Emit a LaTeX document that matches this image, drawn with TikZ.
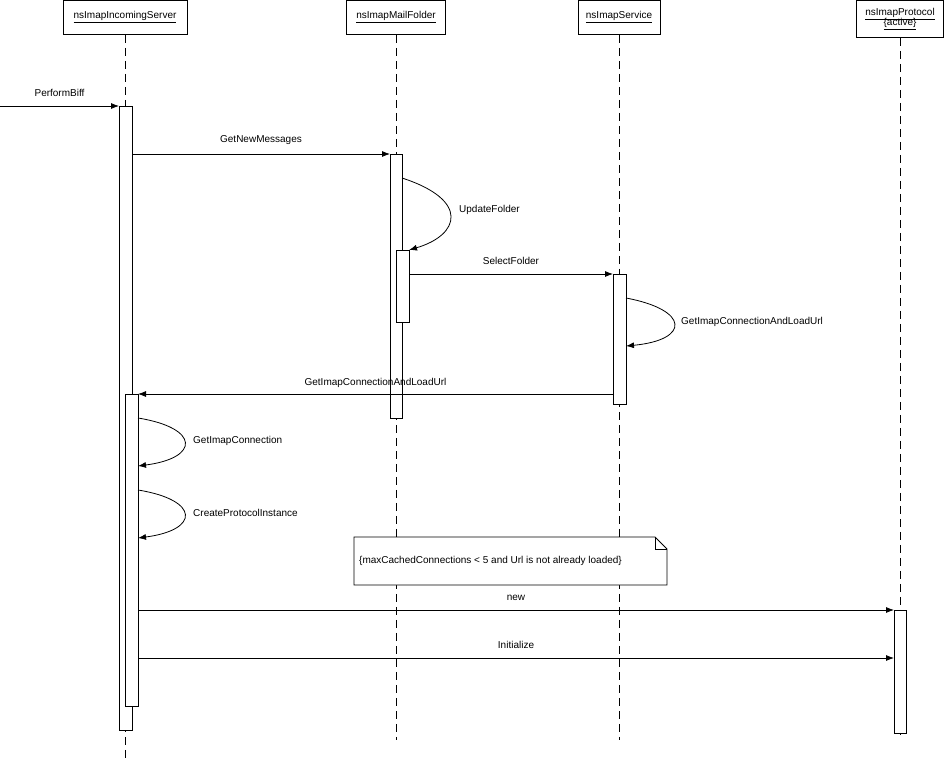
\documentclass[tikz,border=0pt]{standalone}
\usepackage{fontspec}
\setmainfont{Liberation Sans}
\usetikzlibrary{arrows.meta, positioning, calc}
\tikzstyle{object} = [rectangle, draw=black, line width=0.8pt, minimum height=34pt, inner sep=2pt, align=center, font=\fontsize{10}{12}\selectfont]
\tikzstyle{life} = [dash pattern=on 8pt off 5pt, line width=0.8pt]
\tikzstyle{activation} = [draw=black, fill=white, line width=0.8pt]
\tikzstyle{arrow} = [line width=0.8pt,-{Latex[length=8pt,width=6pt]}]
\tikzstyle{msg} = [font=\fontsize{10}{12}\selectfont, inner sep=1pt]

\begin{document}
\begin{tikzpicture}[x=1pt, y=-1pt]
    \useasboundingbox (0,0) rectangle (945,760);
    % Objects
    \node[object, minimum width=124pt, anchor=north] (server) at (125,0) {\underline{nsImapIncomingServer}};
    \node[object, minimum width=99pt, anchor=north] (folder) at (396,0) {\underline{nsImapMailFolder}};
    \node[object, minimum width=82pt, anchor=north] (service) at (619,0) {\underline{nsImapService}};
    \node[object, minimum width=87pt, minimum height=37pt, anchor=north] (protocol) at (900,0) {\underline{nsImapProtocol}\\[-2pt]\underline{\{active\}}};

    % Lifelines
    \draw[life] (server.south) -- (125,760);
    \draw[life] (folder.south) -- (396,740);
    \draw[life] (service.south) -- (619,740);
    \draw[life] (protocol.south) -- (900,735);

    % Activations
    \draw[activation] (119,106) rectangle (132,730);
    \draw[activation] (125,394) rectangle (138,706);
    \draw[activation] (390,154) rectangle (402,418);
    \draw[activation] (396,250) rectangle (409,322);
    \draw[activation] (613,274) rectangle (626,404);
    \draw[activation] (894,610) rectangle (906,733);

    % Message end points
    \coordinate (biff) at (0,106);
    \coordinate (srvA) at (119,106);
    \coordinate (srvB) at (132,154);
    \coordinate (fldA) at (390,154);
    \coordinate (fldB) at (402,178);
    \coordinate (fldC) at (409,250);
    \coordinate (fldD) at (409,274);
    \coordinate (svcA) at (613,274);
    \coordinate (svcB) at (626,298);
    \coordinate (svcC) at (626,346);
    \coordinate (svcD) at (613,394);
    \coordinate (srvC) at (138,394);
    \coordinate (srvD) at (138,418);
    \coordinate (srvE) at (138,466);
    \coordinate (srvF) at (138,490);
    \coordinate (srvG) at (138,538);
    \coordinate (srvH) at (138,610);
    \coordinate (srvI) at (138,658);
    \coordinate (prtA) at (894,610);
    \coordinate (prtB) at (894,658);

    % Messages
    \draw[arrow] (biff) -- node[msg, above=8pt] {PerformBiff} (srvA);
    \draw[arrow] (srvB) -- node[msg, above=8pt] {GetNewMessages} (fldA);
    \draw[arrow] (fldB) .. controls (470,200) and (460,235) .. (fldC);
    \node[msg, anchor=west] (upd) at (458,210) {UpdateFolder};
    \draw[arrow] (fldD) -- node[msg, above=8pt] {SelectFolder} (svcA);
    \draw[arrow] (svcB) .. controls (690,310) and (690,340) .. (svcC);
    \node[msg, anchor=west] (load) at (680,322) {GetImapConnectionAndLoadUrl};
    \draw[arrow] (svcD) -- node[msg, above=5pt] {GetImapConnectionAndLoadUrl} (srvC);
    \draw[arrow] (srvD) .. controls (200,428) and (200,458) .. (srvE);
    \node[msg, anchor=west] (conn) at (192,441) {GetImapConnection};
    \draw[arrow] (srvF) .. controls (200,500) and (200,530) .. (srvG);
    \node[msg, anchor=west] (inst) at (192,513) {CreateProtocolInstance};
    \draw[arrow] (srvH) -- node[msg, above=8pt] {new} (prtA);
    \draw[arrow] (srvI) -- node[msg, above=8pt] {Initialize} (prtB);

    % Note
    \draw[line width=0.8pt, fill=white] (354,537) -- (655,537) -- (667,549) -- (667,585) -- (354,585) -- cycle;
    \draw[line width=0.8pt] (655,537) -- (655,549) -- (667,549);
    \node[msg, anchor=west] (note) at (358,561) {\{maxCachedConnections < 5 and Url is not already loaded\}};
\end{tikzpicture}
\end{document}
